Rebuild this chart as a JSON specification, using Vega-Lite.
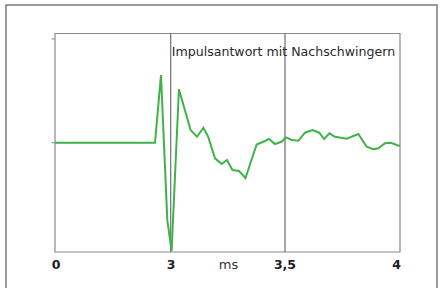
{
  "$schema": "https://vega.github.io/schema/vega-lite/v6.json",
  "width": 431,
  "height": 300,
  "autosize": {"type": "none"},
  "padding": {"left": 6, "top": 5, "right": 4, "bottom": 0},
  "background": "white",
  "config": {"view": {"stroke": "#7a7a7a", "strokeWidth": 1.5}, "font": "DejaVu Sans"},
  "datasets": {
    "signal": [
      {"t": 0, "v": 0}, {"t": 2.593, "v": 0}, {"t": 2.748, "v": 0.62}, {"t": 2.912, "v": -0.708},
      {"t": 3.004, "v": -0.99}, {"t": 3.036, "v": 0.489}, {"t": 3.087, "v": 0.116}, {"t": 3.115, "v": 0.055},
      {"t": 3.143, "v": 0.137}, {"t": 3.164, "v": 0.055}, {"t": 3.194, "v": -0.143}, {"t": 3.223, "v": -0.195},
      {"t": 3.246, "v": -0.158}, {"t": 3.27, "v": -0.25}, {"t": 3.299, "v": -0.259}, {"t": 3.327, "v": -0.323},
      {"t": 3.376, "v": -0.016}, {"t": 3.405, "v": 0.009}, {"t": 3.43, "v": 0.034}, {"t": 3.456, "v": -0.012},
      {"t": 3.485, "v": 0.009}, {"t": 3.504, "v": 0.049}, {"t": 3.529, "v": 0.025}, {"t": 3.558, "v": 0.018},
      {"t": 3.587, "v": 0.092}, {"t": 3.62, "v": 0.116}, {"t": 3.649, "v": 0.092}, {"t": 3.67, "v": 0.034},
      {"t": 3.693, "v": 0.086}, {"t": 3.717, "v": 0.055}, {"t": 3.768, "v": 0.037}, {"t": 3.819, "v": 0.08},
      {"t": 3.855, "v": -0.037}, {"t": 3.884, "v": -0.06}, {"t": 3.906, "v": -0.051}, {"t": 3.935, "v": -0.005},
      {"t": 3.96, "v": 0}, {"t": 3.986, "v": -0.021}, {"t": 4.0, "v": -0.03}
    ],
    "box": [{"t0": 0, "t1": 4, "v0": -1, "v1": 1}],
    "vlines": [{"t": 3, "v0": -1, "v1": 1}, {"t": 3.5, "v0": -1, "v1": 1}],
    "ticks": [{"t0": -0.09, "t1": 0, "v": 0.95}, {"t0": -0.09, "t1": 0, "v": 0}],
    "numlabels": [
      {"t": 0.03, "v": -1.119, "label": "0"}, {"t": 3.002, "v": -1.119, "label": "3"},
      {"t": 3.5, "v": -1.119, "label": "3,5"}, {"t": 3.985, "v": -1.119, "label": "4"}
    ],
    "unit": [{"t": 3.253, "v": -1.119, "label": "ms"}],
    "title": [{"t": 3, "v": 0.833, "label": "Impulsantwort mit Nachschwingern"}]
  },
  "layer": [
    {
      "data": {"name": "box"},
      "mark": {"type": "rect", "fill": null, "stroke": "#8a8a8a", "strokeWidth": 1.2},
      "encoding": {
        "x": {"field": "t0", "type": "quantitative", "axis": null, "scale": {"domain": [0, 3, 3.5, 4], "range": [49, 164.7, 279, 394]}},
        "x2": {"field": "t1"},
        "y": {"field": "v0", "type": "quantitative", "axis": null, "scale": {"domain": [-1, 1], "range": [247, 28.5]}},
        "y2": {"field": "v1"}
      }
    },
    {
      "data": {"name": "vlines"},
      "mark": {"type": "rule", "stroke": "#6e6e6e", "strokeWidth": 1.2},
      "encoding": {
        "x": {"field": "t", "type": "quantitative"},
        "y": {"field": "v0", "type": "quantitative"},
        "y2": {"field": "v1"}
      }
    },
    {
      "data": {"name": "ticks"},
      "mark": {"type": "rule", "stroke": "#8a8a8a", "strokeWidth": 1},
      "encoding": {
        "x": {"field": "t0", "type": "quantitative"},
        "x2": {"field": "t1"},
        "y": {"field": "v", "type": "quantitative"}
      }
    },
    {
      "data": {"name": "signal"},
      "mark": {"type": "line", "stroke": "#3fb34a", "strokeWidth": 2},
      "encoding": {
        "x": {"field": "t", "type": "quantitative"},
        "y": {"field": "v", "type": "quantitative"}
      }
    },
    {
      "data": {"name": "title"},
      "mark": {"type": "text", "align": "left", "baseline": "middle", "dx": 1, "fontSize": 12.6, "fill": "#2a2a2a"},
      "encoding": {
        "x": {"field": "t", "type": "quantitative"},
        "y": {"field": "v", "type": "quantitative"},
        "text": {"field": "label"}
      }
    },
    {
      "data": {"name": "numlabels"},
      "mark": {"type": "text", "align": "center", "baseline": "middle", "fontSize": 12.5, "fontWeight": "bold", "fill": "#1e1e1e"},
      "encoding": {
        "x": {"field": "t", "type": "quantitative"},
        "y": {"field": "v", "type": "quantitative"},
        "text": {"field": "label"}
      }
    },
    {
      "data": {"name": "unit"},
      "mark": {"type": "text", "align": "center", "baseline": "middle", "fontSize": 13, "fill": "#333333"},
      "encoding": {
        "x": {"field": "t", "type": "quantitative"},
        "y": {"field": "v", "type": "quantitative"},
        "text": {"field": "label"}
      }
    }
  ]
}
